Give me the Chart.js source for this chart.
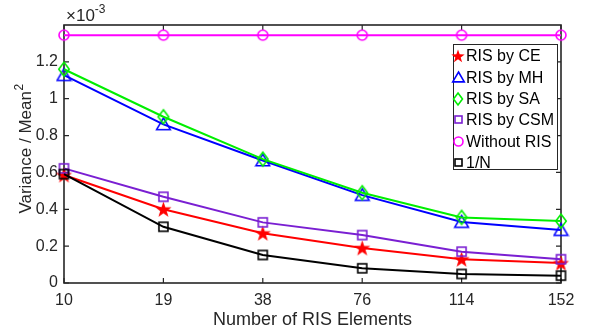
<!DOCTYPE html>
<html>
<head>
<meta charset="utf-8">
<script src="https://cdn.jsdelivr.net/npm/chart.js@4"></script>
<style>
html,body{margin:0;padding:0;background:#fff;}
#wrap{width:598px;height:331px;position:relative;}
</style>
</head>
<body>
<div id="wrap"><canvas id="c" width="598" height="331"></canvas></div>
<script>
// ---- data (values in units of 1e-3) ----
const categories = ['10', '19', '38', '76', '114', '152'];
const risByCE   = [0.586, 0.400, 0.270, 0.190, 0.129, 0.108];
const risByMH   = [1.128, 0.861, 0.665, 0.477, 0.331, 0.287];
const risBySA   = [1.160, 0.902, 0.672, 0.490, 0.356, 0.336];
const risByCSM  = [0.622, 0.468, 0.329, 0.260, 0.170, 0.129];
const withoutRIS = [1.345, 1.345, 1.345, 1.345, 1.345, 1.345];
const oneOverN  = [0.591, 0.305, 0.152, 0.080, 0.049, 0.040];
const seriesNames = ['RIS by CE', 'RIS by MH', 'RIS by SA', 'RIS by CSM', 'Without RIS', '1/N'];
const yTickValues = [0, 0.2, 0.4, 0.6, 0.8, 1, 1.2];
const xTitle = 'Number of RIS Elements';
const yTitle = 'Variance / Mean';
const yTitleSup = '2';

const AX = '#262626';
const FONT = '"Liberation Sans", Arial, Helvetica, sans-serif';

function mk(size, draw) {
  const c = document.createElement('canvas');
  c.width = size; c.height = size;
  const g = c.getContext('2d');
  draw(g, size / 2);
  return c;
}
function star(color, R) {
  return mk(Math.ceil(R * 2 + 2), (g, c) => {
    g.beginPath();
    for (let i = 0; i < 10; i++) {
      const r = i % 2 === 0 ? R : R * 0.4;
      const a = -Math.PI / 2 + i * Math.PI / 5;
      const x = c + r * Math.cos(a), y = c + r * Math.sin(a) + R * 0.08;
      i ? g.lineTo(x, y) : g.moveTo(x, y);
    }
    g.closePath(); g.fillStyle = color; g.fill();
  });
}
function tri(color, s) {
  return mk(Math.ceil(s * 2 + 4), (g, c) => {
    g.beginPath();
    g.moveTo(c, c - s); g.lineTo(c + s * 1.05, c + s * 0.8); g.lineTo(c - s * 1.05, c + s * 0.8);
    g.closePath(); g.strokeStyle = color; g.lineWidth = 1.6; g.stroke();
  });
}
function dia(color, s) {
  return mk(Math.ceil(s * 2 + 4), (g, c) => {
    g.beginPath();
    g.moveTo(c, c - s); g.lineTo(c + s * 0.75, c); g.lineTo(c, c + s); g.lineTo(c - s * 0.75, c);
    g.closePath(); g.strokeStyle = color; g.lineWidth = 1.6; g.stroke();
  });
}
function sq(color, s) {
  return mk(Math.ceil(s * 2 + 4), (g, c) => {
    g.strokeStyle = color; g.lineWidth = 1.6;
    g.strokeRect(c - s, c - s, 2 * s, 2 * s);
  });
}
function circ(color, r) {
  return mk(Math.ceil(r * 2 + 4), (g, c) => {
    g.beginPath(); g.arc(c, c, r, 0, Math.PI * 2);
    g.strokeStyle = color; g.lineWidth = 1.6; g.stroke();
  });
}

const colors = ['#ff0000', '#0000ff', '#00ee00', '#7a1fd2', '#ff00ff', '#000000'];
const markers = [star(colors[0], 8.5), tri(colors[1], 6.5), dia(colors[2], 7), sq(colors[3], 4.5), circ(colors[4], 5), sq(colors[5], 4.5)];
const legendMarkers = [star(colors[0], 7), tri(colors[1], 5.5), dia(colors[2], 6), sq(colors[3], 3.5), circ(colors[4], 4.5), sq(colors[5], 3.5)];
const seriesData = [risByCE, risByMH, risBySA, risByCSM, withoutRIS, oneOverN];

const datasets = seriesData.map((d, i) => ({
  label: seriesNames[i],
  data: d,
  borderColor: colors[i],
  backgroundColor: colors[i],
  borderWidth: 2,
  pointStyle: markers[i],
  pointRadius: 6,
  pointHoverRadius: 6,
  tension: 0,
  clip: false,
  order: 6 - i
}));

const framePlugin = {
  id: 'frame',
  beforeDatasetsDraw(chart) {
    const { ctx, chartArea: a, scales } = chart;
    ctx.save();
    ctx.strokeStyle = AX; ctx.lineWidth = 1.6;
    ctx.strokeRect(a.left, a.top, a.right - a.left, a.bottom - a.top);
    ctx.lineWidth = 1.2;
    const tl = 5;
    categories.forEach((_, i) => {
      const x = scales.x.getPixelForValue(i);
      ctx.beginPath();
      ctx.moveTo(x, a.bottom); ctx.lineTo(x, a.bottom - tl);
      ctx.moveTo(x, a.top); ctx.lineTo(x, a.top + tl);
      ctx.stroke();
    });
    yTickValues.forEach(v => {
      const y = scales.y.getPixelForValue(v);
      ctx.beginPath();
      ctx.moveTo(a.left, y); ctx.lineTo(a.left + tl, y);
      ctx.moveTo(a.right, y); ctx.lineTo(a.right - tl, y);
      ctx.stroke();
    });
    ctx.restore();
  },
  afterDraw(chart) {
    const { ctx, chartArea: a } = chart;
    ctx.save();
    ctx.fillStyle = AX;
    ctx.textBaseline = 'alphabetic';
    ctx.textAlign = 'left';
    // exponent label
    ctx.font = '17px ' + FONT;
    ctx.fillText('\u00d710', a.left + 2, 21);
    const w = ctx.measureText('\u00d710').width;
    ctx.font = '12px ' + FONT;
    ctx.fillText('-3', a.left + 2 + w, 13);
    // y title with superscript
    ctx.save();
    ctx.translate(31, (a.top + a.bottom) / 2 - 5);
    ctx.rotate(-Math.PI / 2);
    ctx.font = '17px ' + FONT;
    const w1 = ctx.measureText(yTitle).width;
    ctx.font = '12px ' + FONT;
    const w2 = ctx.measureText(yTitleSup).width;
    const x0 = -(w1 + w2) / 2;
    ctx.font = '17px ' + FONT;
    ctx.fillText(yTitle, x0, 0);
    ctx.font = '12px ' + FONT;
    ctx.fillText(yTitleSup, x0 + w1 + 0.5, -8);
    ctx.restore();
    // legend
    const lx = 453, ly = 44, lw = 104, lh = 125;
    ctx.fillStyle = '#fff';
    ctx.fillRect(lx, ly, lw, lh);
    ctx.strokeStyle = AX; ctx.lineWidth = 1;
    ctx.strokeRect(lx + 0.5, ly + 0.5, lw, lh);
    ctx.font = '16px ' + FONT;
    ctx.textBaseline = 'middle';
    seriesNames.forEach((n, i) => {
      const y = 56 + i * 21.3;
      const m = legendMarkers[i];
      ctx.drawImage(m, Math.round(458 - m.width / 2), Math.round(y - m.height / 2));
      ctx.fillStyle = '#000';
      ctx.fillText(n, 466, y + 1);
    });
    ctx.restore();
  }
};

new Chart(document.getElementById('c'), {
  type: 'line',
  data: { labels: categories, datasets },
  options: {
    responsive: false,
    animation: false,
    events: [],
    layout: { padding: { left: 0, right: 37, top: 25, bottom: 0 } },
    plugins: { legend: { display: false }, tooltip: { enabled: false } },
    scales: {
      x: {
        type: 'category',
        offset: false,
        grid: { display: false, drawTicks: false },
        border: { display: false },
        ticks: { color: AX, font: { family: FONT, size: 16 }, padding: 8, maxRotation: 0, autoSkip: false },
        title: { display: true, text: xTitle, color: AX, font: { family: FONT, size: 18 }, padding: { top: 0, bottom: 0 } },
        afterFit(s) { s.height = 48; }
      },
      y: {
        min: 0, max: 1.4,
        grid: { display: false, drawTicks: false },
        border: { display: false },
        afterBuildTicks(s) { s.ticks = yTickValues.map(v => ({ value: v })); },
        ticks: {
          color: AX, font: { family: FONT, size: 16 }, padding: 6,
          callback: v => String(Number(v.toFixed(1)))
        },
        title: { display: false },
        afterFit(s) { s.width = 64; }
      }
    }
  },
  plugins: [framePlugin]
});
</script>
</body>
</html>
